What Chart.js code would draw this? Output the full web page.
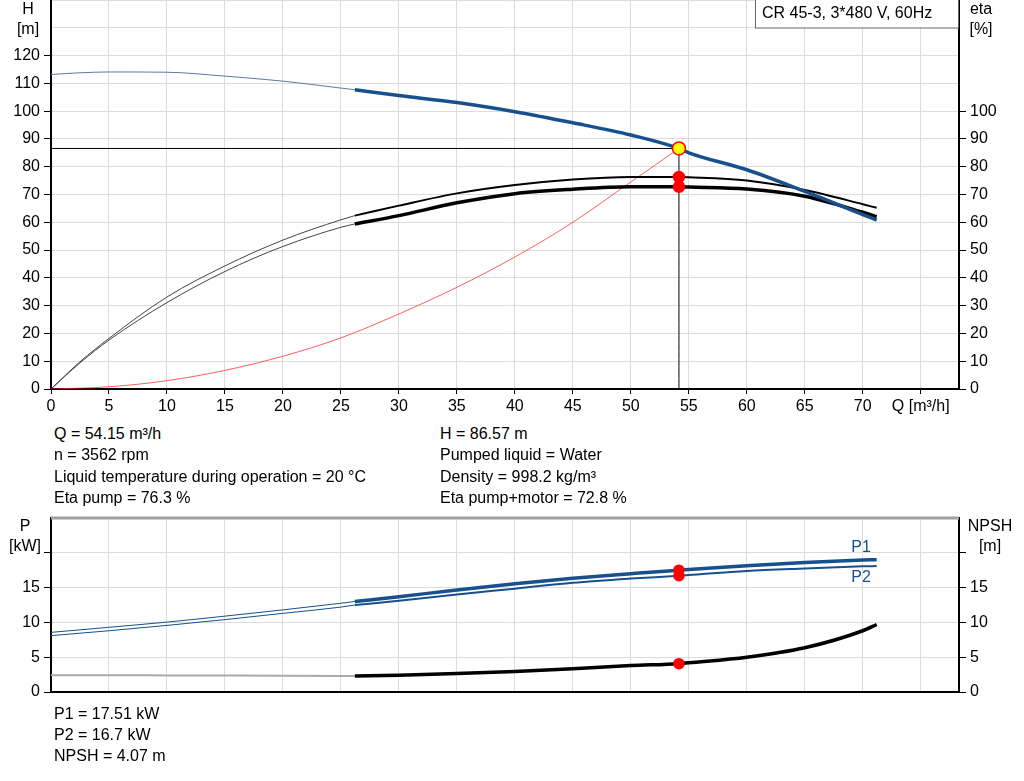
<!DOCTYPE html>
<html>
<head>
<meta charset="utf-8">
<script src="https://cdn.jsdelivr.net/npm/chart.js@4.4.1/dist/chart.umd.min.js"></script>
<style>
    body { margin: 0; background: #fff; font-family: "Liberation Sans", Arial, sans-serif; }
    #wrap { position: relative; width: 1024px; height: 781px; overflow: hidden; }
    canvas { position: absolute; left: 0; }
    .info { position: absolute; font-size: 16px; color: #000; white-space: nowrap; line-height: 20px; }
</style>
</head>
<body>
<div id="wrap">
    <canvas id="headChart" width="1024" height="420" style="top:0"></canvas>
    <canvas id="powerChart" width="1024" height="200" style="top:505px"></canvas>

    <div class="info" style="left:54px; top:424px">Q = 54.15 m³/h</div>
    <div class="info" style="left:54px; top:445px">n = 3562 rpm</div>
    <div class="info" style="left:54px; top:467px">Liquid temperature during operation = 20 °C</div>
    <div class="info" style="left:54px; top:488px">Eta pump = 76.3 %</div>
    <div class="info" style="left:440px; top:424px">H = 86.57 m</div>
    <div class="info" style="left:440px; top:445px">Pumped liquid = Water</div>
    <div class="info" style="left:440px; top:467px">Density = 998.2 kg/m³</div>
    <div class="info" style="left:440px; top:488px">Eta pump+motor = 72.8 %</div>

    <div class="info" style="left:54px; top:704px">P1 = 17.51 kW</div>
    <div class="info" style="left:54px; top:725px">P2 = 16.7 kW</div>
    <div class="info" style="left:54px; top:746px">NPSH = 4.07 m</div>
</div>
<script>
// flow values, thin (outside range) and thick (operating range)
const qThin = [0, 2.5, 5, 10, 15, 20, 25, 26.2];
const qThick = [26.2, 30, 35, 40, 45, 50, 54.15, 55, 60, 65, 70, 71.2];

const headThin = [113.2, 113.8, 114.1, 114.0, 112.6, 110.8, 108.3, 107.7];
const headThick = [107.7, 105.6, 103.1, 99.8, 95.8, 91.4, 86.57, 85.0, 78.9, 71.1, 62.8, 60.8];

const etaPumpThin = [0, 9.8, 18.2, 33.1, 44.3, 53.6, 60.9, 62.4];
const etaPumpThick = [62.4, 66.0, 70.4, 73.4, 75.4, 76.3, 76.3, 76.2, 75.0, 71.6, 66.5, 65.2];
const etaTotalThin = [0, 9.4, 17.6, 31.1, 42.3, 51.3, 58.2, 59.4];
const etaTotalThick = [59.4, 62.4, 67.0, 70.3, 71.9, 72.8, 72.8, 72.7, 72.0, 69.4, 63.6, 62.0];

const qSystem = [0, 5, 10, 15, 20, 25, 30, 35, 40, 45, 50, 54.15];
const hSystem = [0, 0.8, 3.0, 6.7, 11.8, 18.4, 27.0, 36.6, 47.5, 60.0, 74.5, 86.57];

const p1Thin = [8.57, 8.93, 9.3, 10.04, 10.9, 11.8, 12.75, 13.0];
const p1Thick = [13.0, 13.7, 14.65, 15.55, 16.35, 17.0, 17.51, 17.6, 18.15, 18.6, 18.95, 19.0];
const p2Thin = [8.09, 8.45, 8.8, 9.57, 10.4, 11.3, 12.2, 12.5];
const p2Thick = [12.5, 13.1, 14.0, 14.85, 15.7, 16.3, 16.7, 16.8, 17.4, 17.75, 18.05, 18.1];
const npshThin = [2.4, 2.4, 2.4, 2.38, 2.36, 2.34, 2.31, 2.3];
const npshThick = [2.3, 2.42, 2.65, 2.95, 3.33, 3.8, 4.07, 4.2, 5.0, 6.35, 8.8, 9.7];

// duty point
const dutyQ = 54.15;
const dutyH = 86.57;
const dutyEtaPump = 76.3;
const dutyEtaTotal = 72.8;
const dutyP1 = 17.51;
const dutyP2 = 16.7;
const dutyNpsh = 4.07;

const BLUE = '#17508c';
const FONT = { family: "'Liberation Sans', Arial, sans-serif", size: 16 };

function pts(xs, ys) {
    return xs.map((x, i) => ({ x: x, y: ys[i] }));
}

function curve(data, color, width, yAxisID, order) {
    return {
        type: 'line', data: data, yAxisID: yAxisID,
        borderColor: color, borderWidth: width,
        pointRadius: 0, fill: false,
        cubicInterpolationMode: 'monotone',
        order: order
    };
}

function marker(data, yAxisID, fill, border, r) {
    return {
        type: 'scatter', data: data, yAxisID: yAxisID,
        pointRadius: r, pointBackgroundColor: fill,
        pointBorderColor: border, pointBorderWidth: 1.5,
        order: 0
    };
}

// fixed axis sizes so the plot area lands where the reference has it
function fixSize(w, h) {
    return function (s) {
        if (w !== null) s.width = w;
        if (h !== null) s.height = h;
        s.paddingTop = 0; s.paddingBottom = 0;
        s.paddingLeft = 0; s.paddingRight = 0;
    };
}

function xScale(showLabels) {
    return {
        type: 'linear', min: 0, max: 78.3,
        afterFit: fixSize(null, showLabels ? 31 : 13),
        border: { color: '#000', width: 2 },
        grid: { color: '#dcdcdc', tickColor: '#000', tickLength: 5, drawTicks: showLabels },
        ticks: {
            display: showLabels, stepSize: 5, includeBounds: false,
            autoSkip: false, maxRotation: 0, color: '#000', font: FONT, padding: 3,
            callback: v => v === 75 ? 'Q [m³/h]' : v
        }
    };
}

function yScale(pos, max, step, lastLabel, lastTick, width, onArea) {
    return {
        type: 'linear', position: pos, min: 0, max: max,
        afterFit: fixSize(width, null),
        border: { color: '#000', width: 2 },
        grid: {
            drawOnChartArea: onArea, color: '#dcdcdc', tickLength: 7,
            tickColor: c => (c.tick && c.tick.value > lastTick) ? 'rgba(0,0,0,0)' : '#000'
        },
        ticks: {
            stepSize: step, includeBounds: false, autoSkip: false,
            color: '#000', font: FONT, padding: 4,
            callback: v => v <= lastLabel ? v : ''
        }
    };
}

function textPlugin(items, boxTop) {
    return {
        id: 'texts',
        afterDraw(chart) {
            const ctx = chart.ctx;
            const a = chart.chartArea;
            ctx.save();
            if (boxTop) {
                ctx.strokeStyle = '#a0a0a0';
                ctx.lineWidth = 3;
                ctx.beginPath();
                ctx.moveTo(a.left, a.top);
                ctx.lineTo(a.right, a.top);
                ctx.stroke();
            }
            ctx.font = "16px 'Liberation Sans', Arial, sans-serif";
            ctx.textBaseline = 'middle';
            items.forEach(t => {
                ctx.fillStyle = t.color || '#000';
                ctx.textAlign = t.align || 'center';
                ctx.fillText(t.text, t.x, t.y);
            });
            ctx.restore();
        }
    };
}

const legendBox = {
    id: 'legendBox',
    afterDraw(chart) {
        const ctx = chart.ctx;
        ctx.save();
        ctx.fillStyle = '#fff';
        ctx.fillRect(756, 0, 202, 28);
        ctx.strokeStyle = '#666';
        ctx.lineWidth = 1;
        ctx.strokeRect(755.5, -1, 203, 29);
        ctx.fillStyle = '#000';
        ctx.font = "16px 'Liberation Sans', Arial, sans-serif";
        ctx.textBaseline = 'middle';
        ctx.textAlign = 'left';
        ctx.fillText('CR 45-3, 3*480 V, 60Hz', 762, 14);
        ctx.restore();
    }
};

new Chart(document.getElementById('headChart'), {
    data: {
        datasets: [
            marker([{ x: dutyQ, y: dutyH }], 'y', '#ffff00', '#ff0000', 6.5),
            marker([{ x: dutyQ, y: dutyEtaPump }, { x: dutyQ, y: dutyEtaTotal }], 'y2', '#ff0000', '#ff0000', 5.5),
            curve(pts(qThick, headThick), BLUE, 3.5, 'y', 1),
            curve(pts(qThin, headThin), '#5a7ba0', 1, 'y', 1),
            curve(pts(qThick, etaPumpThick), '#000', 2, 'y2', 2),
            curve(pts(qThin, etaPumpThin), '#444', 1, 'y2', 2),
            curve(pts(qThick, etaTotalThick), '#000', 3.5, 'y2', 2),
            curve(pts(qThin, etaTotalThin), '#444', 1, 'y2', 2),
            curve(pts(qSystem, hSystem), 'rgba(255,40,40,0.75)', 1, 'y', 3),
            curve(pts([0, dutyQ], [dutyH, dutyH]), '#000', 1, 'y', 4),
            curve(pts([dutyQ, dutyQ], [0, dutyH]), '#000', 1, 'y', 4)
        ]
    },
    options: {
        responsive: false,
        animation: false,
        layout: { padding: 0, autoPadding: false },
        plugins: { legend: { display: false }, tooltip: { enabled: false } },
        scales: {
            x: xScale(true),
            y: yScale('left', 140, 10, 120, 120, 51, true),
            y2: yScale('right', 140, 10, 100, 100, 65, false)
        }
    },
    plugins: [textPlugin([
        { text: 'H', x: 28, y: 10 },
        { text: '[m]', x: 28, y: 30 },
        { text: 'eta', x: 981, y: 10 },
        { text: '[%]', x: 981, y: 30 }
    ], false), legendBox]
});

new Chart(document.getElementById('powerChart'), {
    data: {
        datasets: [
            marker([{ x: dutyQ, y: dutyP1 }, { x: dutyQ, y: dutyP2 }], 'y', '#ff0000', '#ff0000', 5),
            marker([{ x: dutyQ, y: dutyNpsh }], 'y2', '#ff0000', '#ff0000', 5),
            curve(pts(qThick, p1Thick), BLUE, 3.5, 'y', 1),
            curve(pts(qThin, p1Thin), BLUE, 1, 'y', 1),
            curve(pts(qThick, p2Thick), BLUE, 2, 'y', 1),
            curve(pts(qThin, p2Thin), BLUE, 1, 'y', 1),
            curve(pts(qThick, npshThick), '#000', 3.5, 'y2', 2),
            curve(pts(qThin, npshThin), '#aaaaaa', 2, 'y2', 2)
        ]
    },
    options: {
        responsive: false,
        animation: false,
        layout: { padding: { top: 13, bottom: 0, left: 0, right: 0 }, autoPadding: false },
        plugins: { legend: { display: false }, tooltip: { enabled: false } },
        scales: {
            x: xScale(false),
            y: yScale('left', 25, 5, 15, 20, 51, true),
            y2: yScale('right', 25, 5, 15, 20, 65, false)
        }
    },
    plugins: [textPlugin([
        { text: 'P', x: 25, y: 22 },
        { text: '[kW]', x: 25, y: 42 },
        { text: 'NPSH', x: 990, y: 22 },
        { text: '[m]', x: 990, y: 42 },
        { text: 'P1', x: 861, y: 43, color: BLUE, align: 'center' },
        { text: 'P2', x: 861, y: 73, color: BLUE, align: 'center' }
    ], true)]
});
</script>
</body>
</html>
